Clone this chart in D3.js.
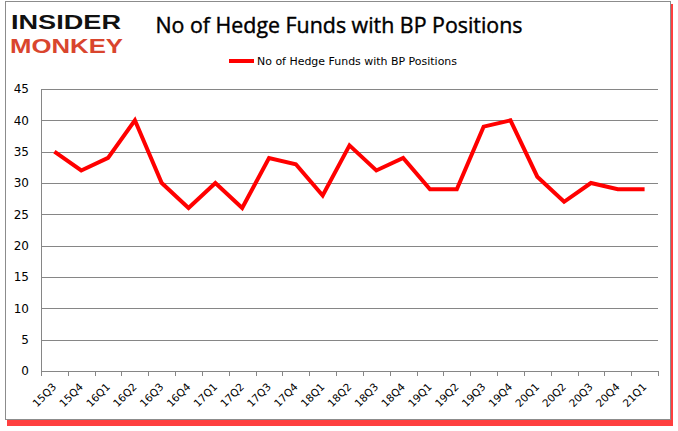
<!DOCTYPE html>
<html>
<head>
<meta charset="utf-8">
<script src="https://cdn.jsdelivr.net/npm/d3@7"></script>
<style>
  body { margin: 0; background: #fff; }
  svg text { font-family: "DejaVu Sans", Verdana, sans-serif; }
</style>
</head>
<body>
<div id="chart"></div>
<script>
// quarters and hedge fund counts
const quarters = ['15Q3', '15Q4', '16Q1', '16Q2', '16Q3', '16Q4', '17Q1', '17Q2', '17Q3', '17Q4',
  '18Q1', '18Q2', '18Q3', '18Q4', '19Q1', '19Q2', '19Q3', '19Q4', '20Q1', '20Q2', '20Q3', '20Q4', '21Q1'];
const funds = [35, 32, 34, 40, 30, 26, 30, 26, 34, 33, 28, 36, 32, 34, 29, 29, 39, 40, 31, 27, 30, 29, 29];
const yTicks = [0, 5, 10, 15, 20, 25, 30, 35, 40, 45];
const title = 'No of Hedge Funds with BP Positions';

const W = 678, H = 431;
let margin = { top: 89, right: 20, bottom: 60, left: 41 };
let width = 658 - margin.left;
let height = 371 - margin.top;

let svg = d3.select('#chart').append('svg')
    .attr('width', W)
    .attr('height', H);

// frame with the red shadow
svg.append('rect')
    .attr('x', 7).attr('y', 4)
    .attr('width', 666).attr('height', 422)
    .attr('fill', '#ff2a2a').attr('opacity', 0.9);
svg.append('rect')
    .attr('x', 5.5).attr('y', 1.5)
    .attr('width', 665).attr('height', 418)
    .attr('fill', '#fff').attr('stroke', '#8c8c8c');

// logo
svg.append('text')
    .attr('x', 11).attr('y', 29)
    .attr('textLength', 110).attr('lengthAdjust', 'spacingAndGlyphs')
    .style('font-family', 'Liberation Sans')
    .style('font-weight', 'bold')
    .style('font-size', '21px')
    .attr('fill', '#111')
    .text('INSIDER');
svg.append('text')
    .attr('x', 10).attr('y', 53)
    .attr('textLength', 113).attr('lengthAdjust', 'spacingAndGlyphs')
    .style('font-family', 'Liberation Sans')
    .style('font-weight', 'bold')
    .style('font-size', '21px')
    .attr('fill', '#d9452e')
    .text('MONKEY');

// title
svg.append('text')
    .attr('x', 339).attr('y', 33)
    .attr('text-anchor', 'middle')
    .attr('textLength', 367).attr('lengthAdjust', 'spacingAndGlyphs')
    .style('font-family', 'Open Sans')
    .style('font-size', '21px')
    .style('stroke', '#000').style('stroke-width', 0.4)
    .attr('fill', '#000')
    .text(title);

// legend
svg.append('line')
    .attr('x1', 229).attr('x2', 254)
    .attr('y1', 61).attr('y2', 61)
    .attr('stroke', '#ff0000').attr('stroke-width', 4);
svg.append('text')
    .attr('x', 257).attr('y', 65)
    .attr('textLength', 200).attr('lengthAdjust', 'spacingAndGlyphs')
    .style('font-size', '11px')
    .attr('fill', '#000')
    .text(title);

let g = svg.append('g')
    .attr('transform', 'translate(' + margin.left + ',' + margin.top + ')');

let x = d3.scaleBand().domain(quarters).range([0, width]);
let y = d3.scaleLinear().domain([0, 45]).range([height, 0]);

// gridlines
g.selectAll('line.grid')
    .data(yTicks.filter(d => d > 0))
    .enter().append('line')
    .attr('class', 'grid')
    .attr('x1', 0).attr('x2', width)
    .attr('y1', d => Math.round(y(d)) + 0.5)
    .attr('y2', d => Math.round(y(d)) + 0.5)
    .attr('stroke', '#868686');

// y axis
let yAxis = g.append('g')
    .call(d3.axisLeft(y).tickValues(yTicks).tickSize(0).tickPadding(12));
yAxis.select('.domain').attr('stroke', '#868686');
yAxis.selectAll('text')
    .style('font-size', '12px')
    .attr('fill', '#000');

// x axis with ticks at category boundaries
let xAxis = g.append('g')
    .attr('transform', 'translate(0,' + height + ')');
xAxis.append('line')
    .attr('x1', 0).attr('x2', width)
    .attr('y1', 0.5).attr('y2', 0.5)
    .attr('stroke', '#868686');
xAxis.selectAll('line.tick')
    .data(d3.range(quarters.length + 1))
    .enter().append('line')
    .attr('class', 'tick')
    .attr('x1', i => Math.round(i * x.step()) + 0.5)
    .attr('x2', i => Math.round(i * x.step()) + 0.5)
    .attr('y1', 0).attr('y2', 5)
    .attr('stroke', '#868686');
xAxis.selectAll('text')
    .data(quarters)
    .enter().append('text')
    .attr('transform', d => 'translate(' + (x(d) + x.bandwidth() / 2) + ',14) rotate(-45)')
    .attr('text-anchor', 'end')
    .attr('dy', '0.35em')
    .style('font-size', '10.5px')
    .attr('fill', '#000')
    .text(d => d);

// the line
g.append('path')
    .datum(funds)
    .attr('fill', 'none')
    .attr('stroke', '#ff0000')
    .attr('stroke-width', 4)
    .attr('stroke-linejoin', 'miter')
    .attr('d', d3.line()
        .x((d, i) => x(quarters[i]) + x.bandwidth() / 2)
        .y(d => y(d)));
</script>
</body>
</html>
